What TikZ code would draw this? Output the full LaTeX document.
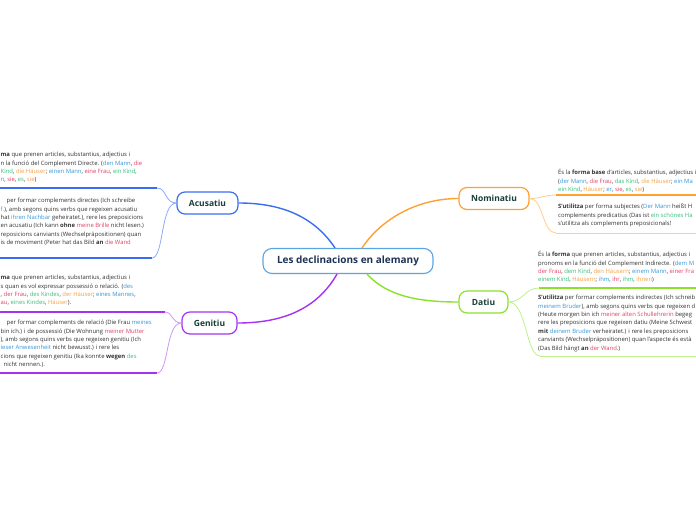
\documentclass[tikz,border=0pt]{standalone}
\usepackage{fontspec}
\setmainfont{Open Sans}
\usetikzlibrary{positioning,calc}
\definecolor{acucol}{RGB}{58,110,242}
\definecolor{aculine}{RGB}{140,170,245}
\definecolor{nomcol}{RGB}{255,160,50}
\definecolor{nomline}{RGB}{255,205,140}
\definecolor{datcol}{RGB}{140,225,45}
\definecolor{datline}{RGB}{190,240,140}
\definecolor{gencol}{RGB}{165,50,240}
\definecolor{genline}{RGB}{205,150,250}
\definecolor{rootcol}{RGB}{90,165,225}
\definecolor{roottext}{RGB}{30,50,85}
\definecolor{casetext}{RGB}{25,62,55}
\definecolor{bodytext}{RGB}{50,50,50}
\definecolor{masc}{RGB}{55,150,215}
\definecolor{femn}{RGB}{225,65,100}
\definecolor{neut}{RGB}{55,190,120}
\definecolor{plur}{RGB}{245,160,70}
\newcommand{\mascw}[1]{\textcolor{masc}{#1}}
\newcommand{\femw}[1]{\textcolor{femn}{#1}}
\newcommand{\neutw}[1]{\textcolor{neut}{#1}}
\newcommand{\plurw}[1]{\textcolor{plur}{#1}}
\tikzset{
  rootnode/.style={rectangle,rounded corners=9pt,draw=rootcol,line width=1.1pt,fill=white,
    text=roottext,font=\fontsize{10}{12}\selectfont\bfseries,minimum width=170pt,minimum height=25pt},
  casenode/.style={rectangle,rounded corners=8pt,line width=1.2pt,fill=white,
    text=casetext,font=\fontsize{8.5}{10}\selectfont\bfseries,minimum height=22pt},
  infotext/.style={align=left,inner sep=0pt,anchor=north west,text=bodytext,
    font=\fontsize{5.9}{8.4}\selectfont},
  branch/.style={line width=1.4pt},
  twig/.style={line width=0.8pt},
  uline/.style={line width=1.3pt},
  thinline/.style={line width=0.7pt}
}

\begin{document}
\begin{tikzpicture}[x=1pt,y=-1pt]
  \useasboundingbox (0,0) rectangle (696,520);
  \clip (0,0) rectangle (696,520);

  %% Central topic and the four cases
  \node[rootnode] (root) at (348,261) {Les declinacions en alemany};
  \node[casenode,draw=acucol,minimum width=61pt] (acu) at (207.5,203) {Acusatiu};
  \node[casenode,draw=nomcol,minimum width=70pt] (nom) at (494,198.5) {Nominatiu};
  \node[casenode,draw=datcol,minimum width=49pt] (dat) at (483.5,302) {Datiu};
  \node[casenode,draw=gencol,minimum width=55pt] (gen) at (209.5,323) {Genitiu};

  %% Main branches
  \draw[branch,acucol] (acu.east) .. controls +(45,0) and +(-20,-30) .. ($(root.north)+(-13,0)$);
  \draw[branch,nomcol] ($(root.north)+(14,0)$) .. controls +(20,-30) and +(-40,0) .. (nom.west);
  \draw[branch,datcol] ($(root.south)+(19,0)$) .. controls +(20,22) and +(-40,0) .. (dat.west);
  \draw[branch,gencol] ($(root.south)+(-11,0)$) .. controls +(-20,35) and +(45,0) .. (gen.east);

  %% Ends of the underlines
  \coordinate (acuA) at (157,188);  \coordinate (acuA0) at (0,188);
  \coordinate (acuB) at (152,258);  \coordinate (acuB0) at (0,258);
  \coordinate (genA) at (165,312);  \coordinate (genA0) at (0,312);
  \coordinate (genB) at (157,373);  \coordinate (genB0) at (0,373);
  \coordinate (nomA) at (556,195);  \coordinate (nomA1) at (696,195);
  \coordinate (nomB) at (556,233);  \coordinate (nomB1) at (696,233);
  \coordinate (datA) at (539,288);  \coordinate (datA1) at (696,288);
  \coordinate (datB) at (540,356);  \coordinate (datB1) at (696,356);

  %% Twigs to the notes
  \draw[twig,aculine] (acu.west) .. controls +(-12,0) and +(10,0) .. (acuA);
  \draw[twig,aculine] (acu.west) .. controls +(-16,0) and +(12,0) .. (acuB);
  \draw[twig,genline] (gen.west) .. controls +(-10,0) and +(8,0) .. (genA);
  \draw[twig,genline] (gen.west) .. controls +(-16,0) and +(12,0) .. (genB);
  \draw[twig,nomline] (nom.east) .. controls +(12,0) and +(-12,0) .. (nomA);
  \draw[twig,nomline] (nom.east) .. controls +(14,0) and +(-14,0) .. (nomB);
  \draw[twig,datline] (dat.east) .. controls +(14,0) and +(-14,0) .. (datA);
  \draw[twig,datline] (dat.east) .. controls +(18,0) and +(-14,0) .. (datB);

  %% Underlines
  \draw[uline,acucol] (acuA) -- (acuA0);
  \draw[uline,acucol] (acuB) -- (acuB0);
  \draw[uline,gencol] (genA) -- (genA0);
  \draw[uline,gencol] (genB) -- (genB0);
  \draw[uline,nomcol] (nomA) -- (nomA1);
  \draw[thinline,nomline] (nomB) -- (nomB1);
  \draw[uline,datcol] (datA) -- (datA1);
  \draw[thinline,datline] (datB) -- (datB1);

  %% Notes: Acusatiu
  \node[infotext] (acuT1) at (0.5,152)
    {\textbf{ma} que prenen articles, substantius, adjectius i\\
     n la funció del Complement Directe. (\mascw{den Mann}, \femw{die}\\
     \neutw{Kind}, \plurw{die Häuser}; \mascw{einen Mann}, \femw{eine Frau}, \neutw{ein Kind},\\
     \mascw{n}, \femw{sie}, \neutw{es}, \plurw{sie})};
  \node[infotext] (acuT2) at (0.5,198)
    {\hspace*{6pt}per formar complements directes (Ich schreibe\\
     \mascw{f.}), amb segons quins verbs que regeixen acusatiu\\
     hat \mascw{ihren Nachbar} geheiratet.), rere les preposicions\\
     en acusatiu (Ich kann \textbf{ohne} \femw{meine Brille} nicht lesen.)\\
     reposicions canviants (Wechselpräpositionen) quan\\
     is de moviment (Peter hat das Bild \textbf{an} \femw{die Wand}};

  %% Notes: Genitiu
  \node[infotext] (genT1) at (0.5,275)
    {\textbf{ma} que prenen articles, substantius, adjectius i\\
     s quan es vol expressar possessió o relació. (\mascw{des}\\
     , \femw{der Frau}, \neutw{des Kindes}, \plurw{der Häuser}; \mascw{eines Mannes},\\
     \femw{au}, \neutw{eines Kindes}, \plurw{Häuser}).};
  \node[infotext] (genT2) at (0.5,320)
    {\hspace*{6pt}per formar complements de relació (Die Frau \mascw{meines}\\
     bin ich.) i de possessió (Die Wohnung \femw{meiner Mutter}\\
     ), amb segons quins verbs que regeixen genitiu (Ich\\
     \mascw{ieser Anwesenheit} nicht bewusst.) i rere les\\
     cions que regeixen genitiu (Ika konnte \textbf{wegen} \neutw{des}\\
     \hspace*{3pt}nicht nennen.).};

  %% Notes: Nominatiu
  \node[infotext] (nomT1) at (558,169)
    {És la \textbf{forma base} d'articles, substantius, adjectius i\\
     (\mascw{der Mann}, \femw{die Frau}, \neutw{das Kind}, \plurw{die Häuser}; \mascw{ein Ma}\\
     \neutw{ein Kind}, \plurw{Häuser}; \mascw{er}, \femw{sie}, \neutw{es}, \plurw{sie})};
  \node[infotext] (nomT2) at (558,204)
    {\textbf{S'utilitza} per forma subjectes (\mascw{Der Mann} heißt H\\
     complements predicatius (Das ist \neutw{ein schönes Ha}\\
     s'utilitza als complements preposicionals!};

  %% Notes: Datiu
  \node[infotext] (datT1) at (538,251)
    {És la \textbf{forma} que prenen articles, substantius, adjectius i\\
     pronoms en la funció del Complement Indirecte. (\mascw{dem M}\\
     \femw{der Frau}, \neutw{dem Kind}, \plurw{den Häusern}; \mascw{einem Mann}, \femw{einer Fra}\\
     \neutw{einem Kind}, \plurw{Häusern}; \mascw{ihm}, \femw{ihr}, \neutw{ihm}, \plurw{ihnen})};
  \node[infotext] (datT2) at (538,295)
    {\textbf{S'utilitza} per formar complements indirectes (Ich schreib\\
     \mascw{meinem Bruder}), amb segons quins verbs que regeixen d\\
     (Heute morgen bin ich \femw{meiner alten Schullehrerin} begeg\\
     rere les preposicions que regeixen datiu (Meine Schwest\\
     \textbf{mit} \mascw{deinem Bruder} verheiratet.) i rere les preposicions\\
     canviants (Wechselpräpositionen) quan l'aspecte és està\\
     (Das Bild hängt \textbf{an} \femw{der Wand}.)};
\end{tikzpicture}
\end{document}
